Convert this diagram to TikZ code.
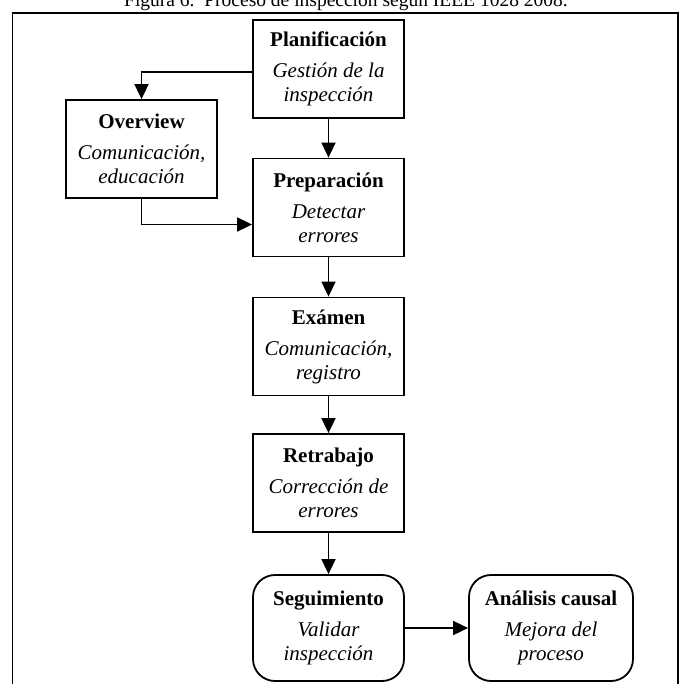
\documentclass[tikz,border=0pt]{standalone}
\usepackage{fontspec}
\setmainfont{Liberation Serif}
\usetikzlibrary{arrows.meta,positioning}
\begin{document}
\begin{tikzpicture}[x=1pt,y=-1pt,
  lw/.style={line width=1.8pt},
  stepbox/.style={draw,lw,minimum width=151pt,minimum height=98pt,inner sep=0pt,align=center,
     font=\fontsize{21}{24}\selectfont},
  roundbox/.style={stepbox,rounded corners=22pt,minimum height=106pt},
  arr/.style={lw,-{Triangle[length=15pt,width=14pt]}},
]
\useasboundingbox (0,0) rectangle (681,684);
\clip (0,0) rectangle (681,684);
% caption (clipped at top, as in the reference)
\node[anchor=base west,inner sep=0pt,font=\fontsize{19.5}{22}\selectfont] (cap) at (124,7)
  {Figura 6.\ \ Proceso de inspección según IEEE 1028 2008.};
% frame
\draw[lw] (12.5,700) -- (12.5,13) -- (678,13) -- (678,700);
% boxes
\node[stepbox] (plan) at (328.5,69) {{\bfseries Planificación}\\[7pt]\itshape Gestión de la\\\itshape inspección};
\node[stepbox] (over) at (141.5,149) {{\bfseries Overview}\\[7pt]\itshape Comunicación,\\\itshape educación};
\node[stepbox] (prep) at (328.5,207.5) {{\bfseries Preparación}\\[7pt]\itshape Detectar\\\itshape errores};
\node[stepbox] (exam) at (328.5,346.5) {{\bfseries Exámen}\\[7pt]\itshape Comunicación,\\\itshape registro};
\node[stepbox] (retr) at (328.5,483) {{\bfseries Retrabajo}\\[7pt]\itshape Corrección de\\\itshape errores};
\node[roundbox] (seg) at (328.5,628) {{\bfseries Seguimiento}\\[7pt]\itshape Validar\\\itshape inspección};
\node[roundbox,minimum width=164pt] (anal) at (551,628) {{\bfseries Análisis causal}\\[7pt]\itshape Mejora del\\\itshape proceso};
% connectors
\draw[arr] ([yshift=-3pt]plan.west) -| (over.north);
\draw[arr] (over.south) |- ([yshift=-17pt]prep.west);
\draw[arr] (plan.south) -- (prep.north);
\draw[arr] (prep.south) -- (exam.north);
\draw[arr] (exam.south) -- (retr.north);
\draw[arr] (retr.south) -- (seg.north);
\draw[arr] (seg.east) -- (anal.west);
\end{tikzpicture}
\end{document}
